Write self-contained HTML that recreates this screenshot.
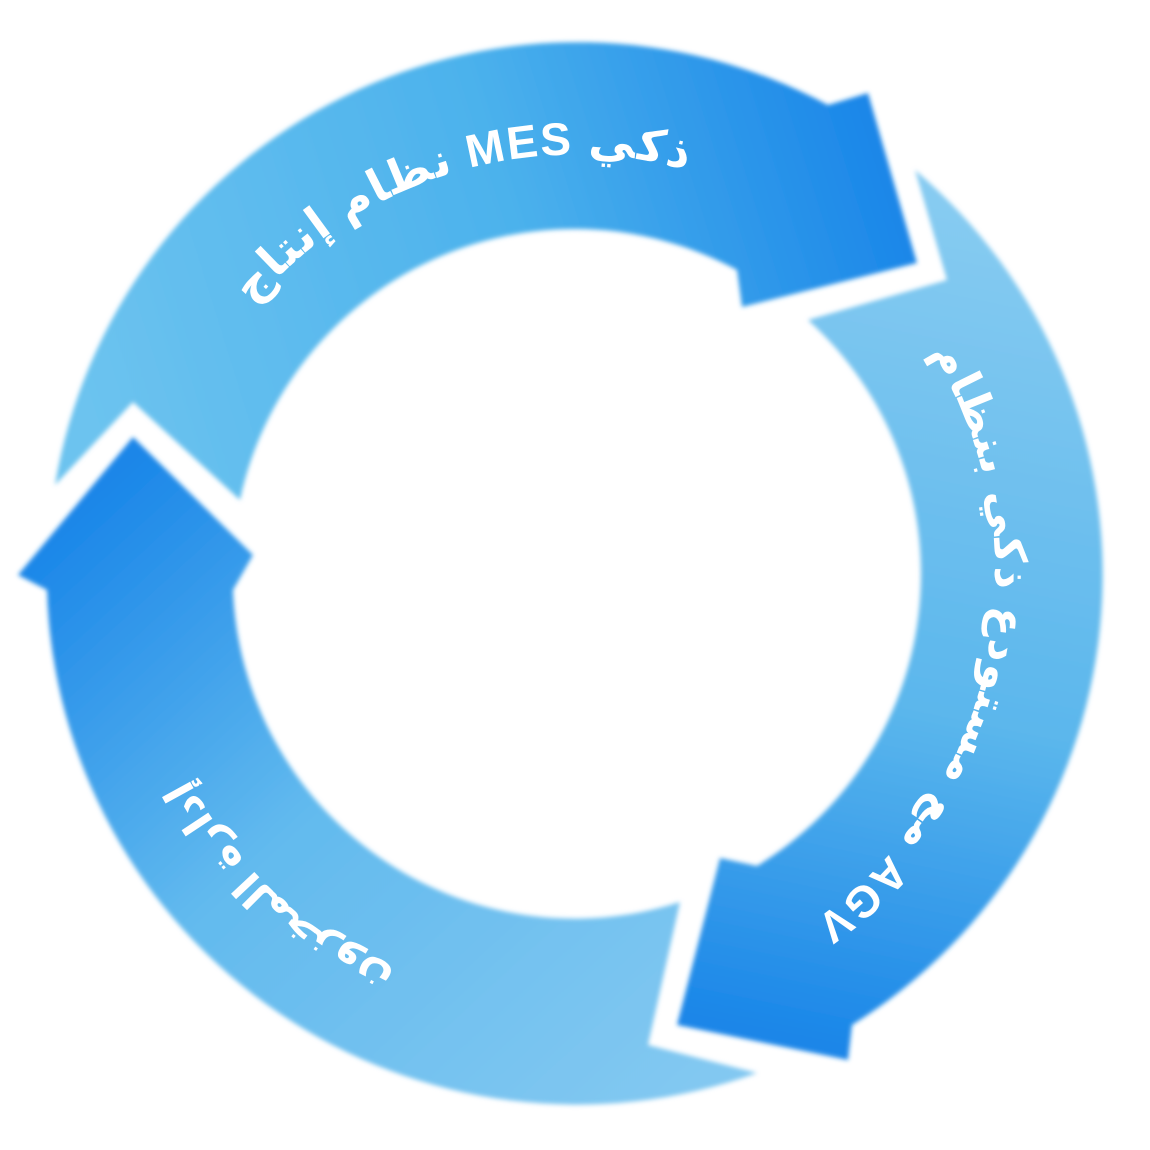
<!DOCTYPE html>
<html><head><meta charset="utf-8"><style>html,body{margin:0;padding:0;background:#fff;width:1150px;height:1150px;overflow:hidden}</style></head>
<body>
<svg width="1150" height="1150" viewBox="0 0 1150 1150" xmlns="http://www.w3.org/2000/svg">
<defs>
<filter id="soft" x="-5%" y="-5%" width="110%" height="110%"><feGaussianBlur stdDeviation="2.5"/></filter>
<linearGradient id="gTop" gradientUnits="userSpaceOnUse" x1="100" y1="450" x2="900" y2="200">
<stop offset="0" stop-color="#6cc3ef"/><stop offset="0.55" stop-color="#4cb2ec"/><stop offset="1" stop-color="#1a86e8"/></linearGradient>
<linearGradient id="gRight" gradientUnits="userSpaceOnUse" x1="930" y1="200" x2="760" y2="1030">
<stop offset="0" stop-color="#86cbf1"/><stop offset="0.6" stop-color="#5ab6ec"/><stop offset="1" stop-color="#1a86e8"/></linearGradient>
<linearGradient id="gLeft" gradientUnits="userSpaceOnUse" x1="700" y1="1080" x2="130" y2="460">
<stop offset="0" stop-color="#82c8f1"/><stop offset="0.55" stop-color="#62baee"/><stop offset="1" stop-color="#1a86e8"/></linearGradient>
<path id="tTop" d="M 253 305 A 420 420 0 0 1 785 211"/>
<path id="tRight" d="M 931 352 A 420 420 0 0 1 759 953"/>
<path id="tLeft" d="M 470 1000 A 440 440 0 0 1 140 620"/>
</defs>
<g filter="url(#soft)">
<path fill="url(#gTop)" d="M55,485 A530,530 0 0 1 828,105 L868,93 L917,263 L742,307 L737,270 A342,342 0 0 0 240,500 L133,402 Z"/>
<path fill="url(#gRight)" d="M915,170 A530,530 0 0 1 852,1025 L848,1060 L677,1025 L720,858 L757,866 A342,342 0 0 0 808,320 L947,280 Z"/>
<path fill="url(#gLeft)" d="M757,1073 A530,530 0 0 1 47,590 L18,575 L133,437 L253,555 L233,590 A342,342 0 0 0 680,902 L648,1045 Z"/>
</g>
<g font-family="'Liberation Sans','DejaVu Sans',sans-serif" font-weight="bold" fill="#fff" font-size="46">
<text><textPath href="#tTop" startOffset="0" textLength="480">نظام إنتاج MES ذكي</textPath></text>
<text font-size="44"><textPath href="#tRight" startOffset="0" textLength="640">مع مستودع ذكي بنظام AGV</textPath></text>
<text font-size="42"><textPath href="#tLeft" startOffset="42%" text-anchor="middle">إدارة المخزون</textPath></text>
</g>
</svg>
</body></html>
